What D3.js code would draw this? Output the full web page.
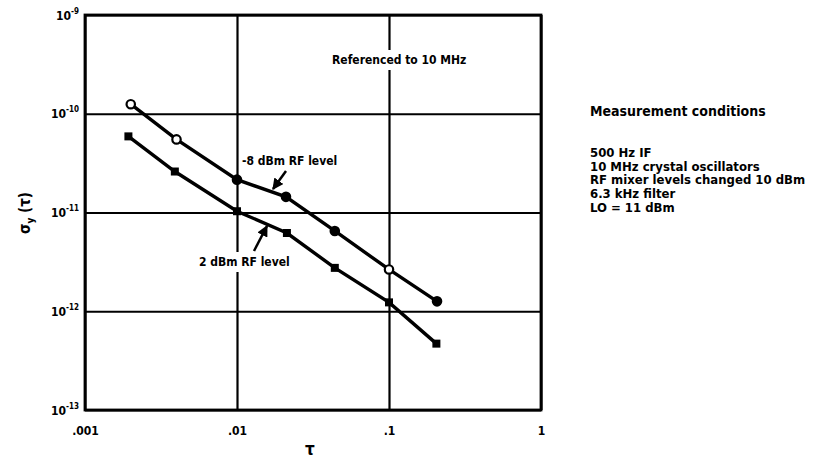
<!DOCTYPE html>
<html>
<head>
<meta charset="utf-8">
<script src="https://cdn.jsdelivr.net/npm/d3@7"></script>
<style>
  body { margin: 0; background: #fff; }
  svg text { font-family: "Liberation Sans Narrow", "DejaVu Sans Condensed", "Liberation Sans", sans-serif; font-weight: bold; fill: #000; }
</style>
</head>
<body>
<script>
// data
var tauUpper = [0.002, 0.004, 0.01, 0.021, 0.044, 0.1, 0.207];
var sigmaUpper = [1.25e-10, 5.5e-11, 2.15e-11, 1.44e-11, 6.5e-12, 2.65e-12, 1.26e-12]; // -8 dBm RF level
var tauLower = [0.00193, 0.0039, 0.01, 0.0213, 0.044, 0.1, 0.205];
var sigmaLower = [5.9e-11, 2.6e-11, 1.03e-11, 6.2e-12, 2.75e-12, 1.23e-12, 4.7e-13]; // 2 dBm RF level
var xTicks = [0.001, 0.01, 0.1, 1];
var xTickLabels = [".001", ".01", ".1", "1"];
var yTicks = [1e-13, 1e-12, 1e-11, 1e-10, 1e-9];
var yTickExp = ["-13", "-12", "-11", "-10", "-9"];
var conditions = ["500 Hz IF", "10 MHz crystal oscillators", "RF mixer levels changed 10 dBm", "6.3 kHz filter", "LO = 11 dBm"];

var W = 833, H = 463;
var margin = {left: 85, top: 15, right: 292, bottom: 53};

var svg = d3.select("body").append("svg")
    .attr("width", W)
    .attr("height", H);

var x = d3.scaleLog().domain([0.001, 1]).range([margin.left, W - margin.right]);
var y = d3.scaleLog().domain([1e-13, 1e-9]).range([H - margin.bottom, margin.top]);

// grid via axes
var xAxis = d3.axisBottom(x)
    .tickValues(xTicks)
    .tickSize(-(y.range()[0] - y.range()[1]))
    .tickFormat(function(d, i) { return xTickLabels[i]; });
var gx = svg.append("g")
    .attr("transform", "translate(0," + y.range()[0] + ")")
    .call(xAxis);
gx.select(".domain").remove();
gx.selectAll(".tick line").attr("stroke", "#000").attr("stroke-width", 2.2);
gx.selectAll(".tick text").attr("y", 16).style("font-size", "12px");

var yAxis = d3.axisLeft(y)
    .tickValues(yTicks)
    .tickSize(-(x.range()[1] - x.range()[0]))
    .tickFormat("");
var gy = svg.append("g")
    .attr("transform", "translate(" + x.range()[0] + ",0)")
    .call(yAxis);
gy.select(".domain").remove();
gy.selectAll(".tick line").attr("stroke", "#000").attr("stroke-width", 2.2);
gy.selectAll(".tick").each(function(d, i) {
  var t = d3.select(this).append("text")
      .attr("x", -6)
      .attr("y", 4)
      .attr("text-anchor", "end")
      .style("font-size", "12px");
  t.append("tspan").text("10");
  t.append("tspan").attr("dy", -6).style("font-size", "8px").text(yTickExp[i]);
});

// frame
svg.append("rect")
    .attr("x", x.range()[0])
    .attr("y", y.range()[1])
    .attr("width", x.range()[1] - x.range()[0])
    .attr("height", y.range()[0] - y.range()[1])
    .attr("fill", "none")
    .attr("stroke", "#000")
    .attr("stroke-width", 2.8);

// label boxes that break the grid lines
function label(txt, lx, ly, size) {
  var t = svg.append("text")
      .attr("x", lx).attr("y", ly)
      .style("font-size", size + "px")
      .text(txt);
  var bb = t.node().getBBox();
  svg.insert("rect", function() { return t.node(); })
      .attr("x", bb.x - 2).attr("y", bb.y - 3)
      .attr("width", bb.width + 4).attr("height", bb.height + 6)
      .attr("fill", "#fff");
  return t;
}
label("Referenced to 10 MHz", 332, 64, 12);
label("2 dBm RF level", 199, 266, 12);

var line = d3.line()
    .x(function(d) { return x(d[0]); })
    .y(function(d) { return y(d[1]); });

var upper = d3.zip(tauUpper, sigmaUpper);
var lower = d3.zip(tauLower, sigmaLower);

svg.append("path").datum(upper).attr("d", line)
    .attr("fill", "none").attr("stroke", "#000").attr("stroke-width", 3.4);
svg.append("path").datum(lower).attr("d", line)
    .attr("fill", "none").attr("stroke", "#000").attr("stroke-width", 3.4);

// markers: open circles on a few upper points
var openIdx = [0, 1, 5];
svg.selectAll(".up").data(upper).enter().append("circle")
    .attr("class", "up")
    .attr("cx", function(d) { return x(d[0]); })
    .attr("cy", function(d) { return y(d[1]); })
    .attr("r", 4.2)
    .attr("fill", function(d, i) { return openIdx.indexOf(i) >= 0 ? "#fff" : "#000"; })
    .attr("stroke", "#000")
    .attr("stroke-width", 2.2);
svg.selectAll(".lo").data(lower).enter().append("rect")
    .attr("class", "lo")
    .attr("x", function(d) { return x(d[0]) - 4; })
    .attr("y", function(d) { return y(d[1]) - 4; })
    .attr("width", 8).attr("height", 8)
    .attr("fill", "#000");

// series labels and arrows
svg.append("defs").append("marker")
    .attr("id", "ah")
    .attr("viewBox", "0 0 10 10")
    .attr("refX", 9).attr("refY", 5)
    .attr("markerWidth", 4.5).attr("markerHeight", 4.5)
    .attr("orient", "auto")
    .append("path").attr("d", "M0,0L10,5L0,10z").attr("fill", "#000");

svg.append("text").attr("x", 242).attr("y", 165).style("font-size", "12px").text("-8 dBm RF level");
svg.append("line")
    .attr("x1", 286).attr("y1", 171).attr("x2", 273).attr("y2", 189)
    .attr("stroke", "#000").attr("stroke-width", 2.5).attr("marker-end", "url(#ah)");
svg.append("line")
    .attr("x1", 254).attr("y1", 251).attr("x2", 267).attr("y2", 226)
    .attr("stroke", "#000").attr("stroke-width", 2.5).attr("marker-end", "url(#ah)");

// axis titles
var yt = svg.append("text")
    .attr("transform", "translate(30,213) rotate(-90)")
    .attr("text-anchor", "middle")
    .style("font-size", "15px");
yt.append("tspan").text("σ");
yt.append("tspan").attr("dy", 4).style("font-size", "10px").text("y");
yt.append("tspan").attr("dy", -4).text(" (τ)");

svg.append("text")
    .attr("x", 310).attr("y", 455)
    .attr("text-anchor", "middle")
    .style("font-size", "17px")
    .text("τ");

// measurement conditions block
svg.append("text")
    .attr("x", 590).attr("y", 116)
    .style("font-size", "14px")
    .text("Measurement conditions");
svg.selectAll(".cond").data(conditions).enter().append("text")
    .attr("class", "cond")
    .attr("x", 590)
    .attr("y", function(d, i) { return 157 + i * 13.7; })
    .style("font-size", "13px")
    .text(function(d) { return d; });
</script>
</body>
</html>
